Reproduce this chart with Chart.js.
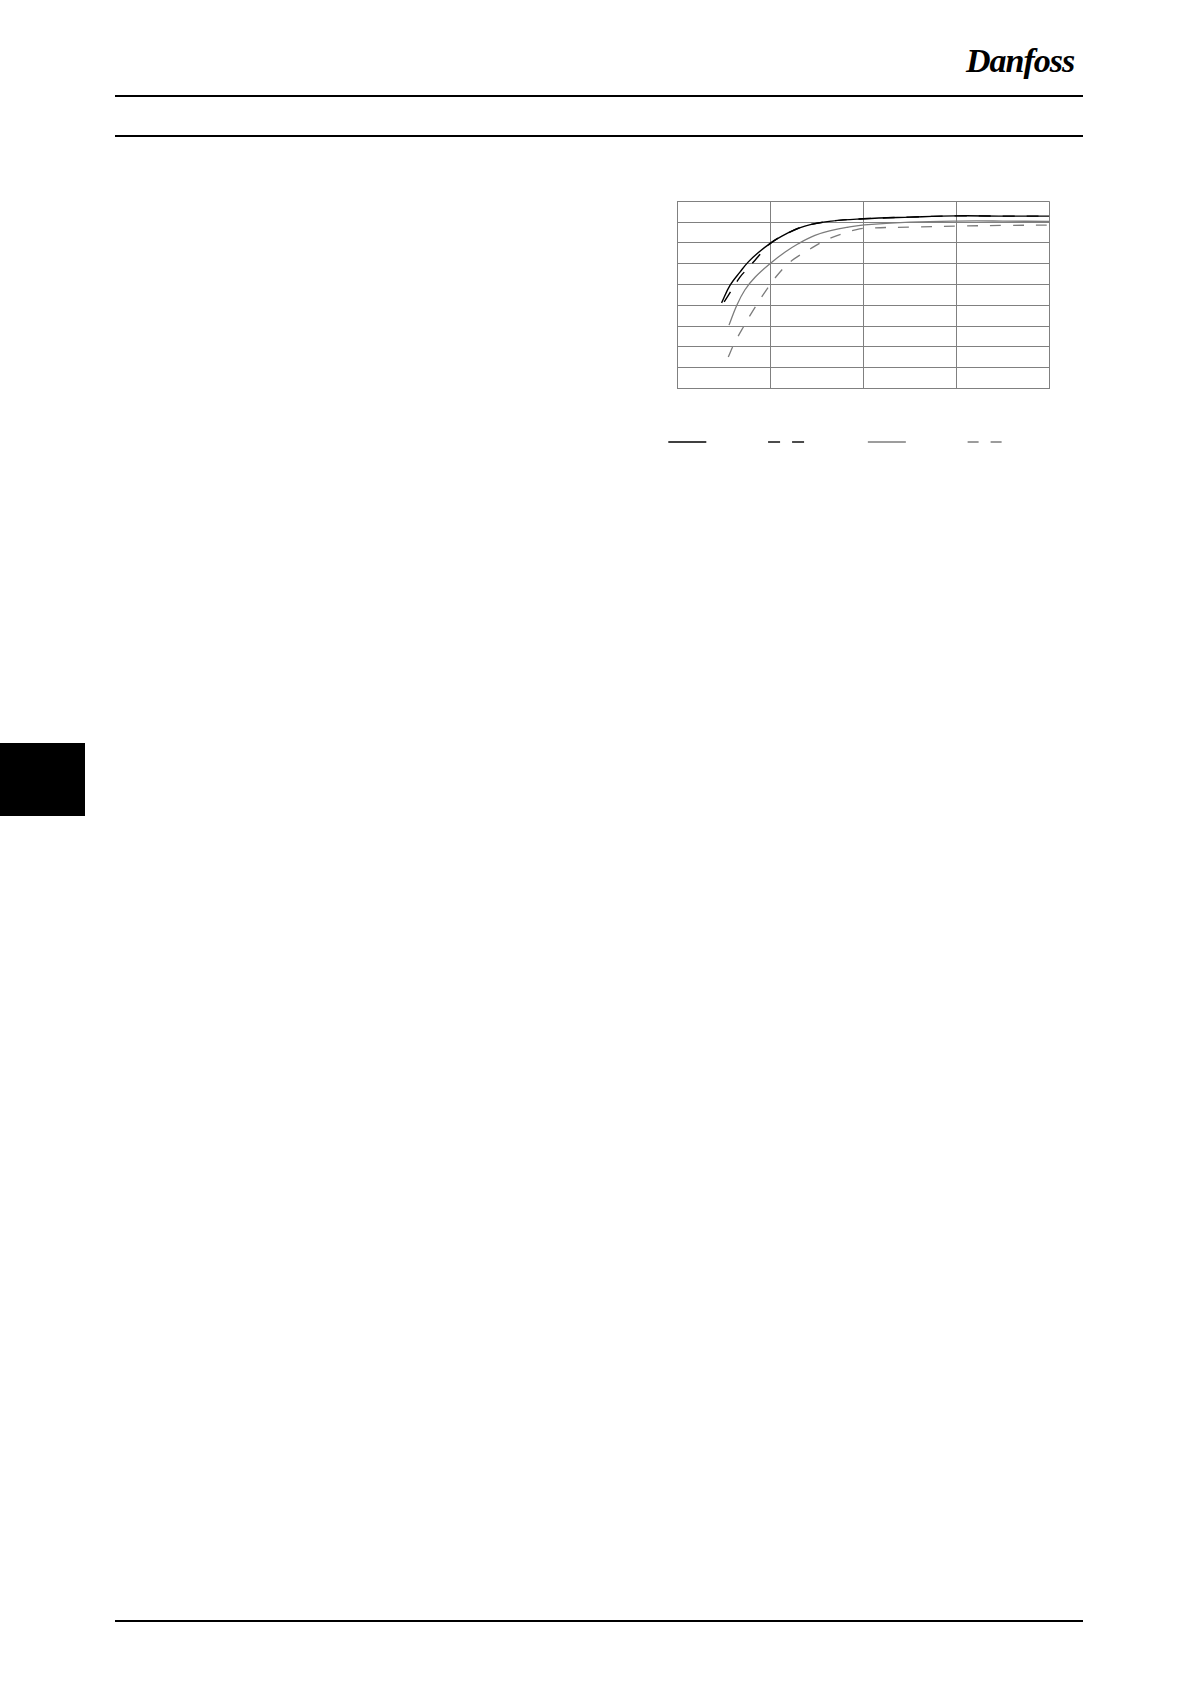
<!DOCTYPE html>
<html>
<head>
<meta charset="utf-8">
<script src="https://cdn.jsdelivr.net/npm/chart.js@4/dist/chart.umd.min.js"></script>
<style>
  html, body { margin: 0; padding: 0; background: #fff; }
  body { width: 1191px; height: 1684px; position: relative; overflow: hidden; }
  .rule { position: absolute; left: 115px; width: 968px; height: 2px; background: #000; }
  #tab { position: absolute; left: 0; top: 743px; width: 85px; height: 73px; background: #000; }
  #logo { position: absolute; left: 966px; top: 42px; font-family: "Liberation Serif", serif; font-style: italic; font-weight: bold; font-size: 34px; letter-spacing: -1px; color: #000; }
  #chartBox { position: absolute; left: 644px; top: 180px; width: 420px; height: 278px; }
</style>
</head>
<body>
<div id="logo">Danfoss</div>
<div class="rule" style="top:95px"></div>
<div class="rule" style="top:135px"></div>
<div id="tab"></div>
<div class="rule" style="top:1620px"></div>
<div id="chartBox"><canvas id="c" width="420" height="278"></canvas></div>
<script>
// Load (%) and efficiency (%)
const blackSolidLoad = [11.9, 14.2, 16.9, 19.1, 21.8, 25, 29, 34.3, 41.5, 50, 62.5, 75, 87.5, 100];
const blackSolidEff  = [51.2, 59.7, 66.1, 70.9, 75.4, 79.8, 84.1, 88.1, 90.5, 91.6, 92.4, 93.0, 92.9, 92.9];

const blackDashLoad = [12.6, 15, 16.9, 18.8, 20.9, 23, 25, 29, 34.3, 41.5, 50, 62.5, 75, 87.5, 100];
const blackDashEff  = [51.7, 58.4, 63.7, 67.5, 71.7, 76, 79.8, 84.1, 88.1, 90.5, 91.6, 92.4, 93.0, 92.9, 92.9];

const graySolidLoad = [13.9, 16.0, 18.2, 20.9, 24.9, 29, 32.5, 37, 41.5, 46, 50.3, 62.5, 75, 87.5, 100];
const graySolidEff  = [40.5, 50.1, 57.5, 63.5, 70.0, 75.6, 79.6, 83.6, 86.0, 87.6, 88.7, 90.0, 90.5, 90.5, 90.3];

const grayDashLoad = [13.7, 15, 16.3, 17.8, 19.6, 23.6, 27.5, 30.8, 33, 35.8, 38.5, 41.3, 44.3, 47.3, 50.3, 62.5, 75, 87.5, 100];
const grayDashEff  = [25.2, 30.5, 35.0, 39.7, 45.3, 56.5, 65.8, 71.5, 74.2, 77.2, 80, 82.4, 84.4, 86.0, 87.0, 87.6, 88.1, 88.4, 88.6];

// axis ranges (tick labels are not shown in the reference)
const xMin = 0, xMax = 100, xStep = 25;
const yMin = 10, yMax = 100, yStep = 10;

// legend entries carry no visible text in the reference
const legendGaps = ['            ', '            ', '            ', ''];

function pts(xs, ys) { return xs.map((x, i) => ({ x: x, y: ys[i] })); }

const gridColor = '#808080';
const grayLine = '#7c7c7c';

new Chart(document.getElementById('c'), {
  type: 'line',
  data: {
    datasets: [
      { label: 'A', data: pts(blackSolidLoad, blackSolidEff), borderColor: '#000', borderWidth: 1.4 },
      { label: 'B', data: pts(blackDashLoad, blackDashEff), borderColor: '#000', borderWidth: 1.4, borderDash: [12, 12] },
      { label: 'C', data: pts(graySolidLoad, graySolidEff), borderColor: grayLine, borderWidth: 1.3 },
      { label: 'D', data: pts(grayDashLoad, grayDashEff), borderColor: grayLine, borderWidth: 1.3, borderDash: [11, 12] }
    ]
  },
  options: {
    responsive: false,
    animation: false,
    events: [],
    layout: { padding: { left: 14.3, right: 14.7, top: 21.3, bottom: 0 } },
    elements: {
      point: { radius: 0 },
      line: { tension: 0.4, fill: false }
    },
    scales: {
      x: {
        type: 'linear', min: xMin, max: xMax,
        ticks: { display: false, stepSize: xStep },
        grid: { color: gridColor, lineWidth: 1, drawTicks: false },
        border: { color: gridColor, width: 1 },
        afterFit: (s) => { s.height = 37.4; }
      },
      y: {
        type: 'linear', min: yMin, max: yMax,
        ticks: { display: false, stepSize: yStep },
        grid: { color: gridColor, lineWidth: 1, drawTicks: false },
        border: { color: gridColor, width: 1 },
        afterFit: (s) => { s.width = 19; }
      }
    },
    plugins: {
      tooltip: { enabled: false },
      legend: {
        position: 'bottom',
        align: 'start',
        labels: {
          usePointStyle: true,
          pointStyle: 'line',
          pointStyleWidth: 38,
          padding: 10,
          font: { family: 'DejaVu Sans', size: 12 },
          generateLabels: (chart) => {
            const items = Chart.defaults.plugins.legend.labels.generateLabels(chart);
            items.forEach((it, i) => {
              const ds = chart.data.datasets[it.datasetIndex];
              it.text = legendGaps[i];
              it.strokeStyle = ds.borderColor;
              it.lineWidth = ds.borderWidth;
              it.lineDash = ds.borderDash || [];
              it.pointStyle = 'line';
            });
            return items;
          }
        }
      }
    }
  }
});
</script>
</body>
</html>
